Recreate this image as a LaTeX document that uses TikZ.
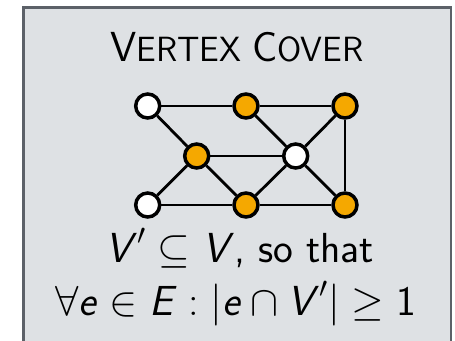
\documentclass[tikz,border=0pt]{standalone}
\usepackage{fix-cm}
\usepackage{amssymb}
\usepackage{fontspec}
\definecolor{boxfill}{HTML}{DEE1E4}
\definecolor{boxline}{HTML}{5C6168}
\definecolor{cover}{HTML}{F5A800}
\newcommand\mv[1]{\mbox{\sffamily\itshape #1\/}}
\newcommand\bigsz{\fontsize{42}{50}\selectfont}
\newcommand\smsz{\fontsize{35}{42}\selectfont}
\begin{document}
\begin{tikzpicture}[x=1pt,y=-1pt,
  vtx/.style={circle,draw=black,line width=3.5pt,minimum size=24pt,inner sep=0pt,fill=white},
  invc/.style={vtx,fill=cover},
  edge/.style={line width=2.8pt,draw=black},
  txt/.style={anchor=base,inner sep=0pt,font=\sffamily\bigsz}]
\useasboundingbox (0,0) rectangle (455,340);
\clip (0,0) rectangle (455,340);
\draw[fill=boxfill,draw=boxline,line width=2.6pt] (23.7,7.5) rectangle (450.8,380);
\node[txt] (title) at (237,61) {\bigsz V\smsz ERTEX \bigsz C\smsz OVER};
\node[vtx]  (tl) at (147.7,106) {};
\node[invc] (tm) at (246,106) {};
\node[invc] (tr) at (345,106) {};
\node[invc] (ml) at (196.7,156) {};
\node[vtx]  (mr) at (295.7,156) {};
\node[vtx]  (bl) at (147.7,205) {};
\node[invc] (bm) at (246,205) {};
\node[invc] (br) at (345,205) {};
\draw[edge] (tl) -- (tm);
\draw[edge] (tm) -- (tr);
\draw[edge] (tl) -- (ml);
\draw[edge] (tm) -- (mr);
\draw[edge] (tr) -- (mr);
\draw[edge] (tr) -- (br);
\draw[edge] (ml) -- (mr);
\draw[edge] (ml) -- (bl);
\draw[edge] (ml) -- (bm);
\draw[edge] (mr) -- (bm);
\draw[edge] (mr) -- (br);
\draw[edge] (bl) -- (bm);
\draw[edge] (bm) -- (br);
\node[txt] (line1) at (240,262) {$\mv{V}'\subseteq\mv{V}$, so that};
\node[txt] (line2) at (235.5,315) {$\forall\mv{e}\in\mv{E}:|\mv{e}\cap\mv{V}'|\geq\mbox{\sffamily 1}$};
\end{tikzpicture}
\end{document}
